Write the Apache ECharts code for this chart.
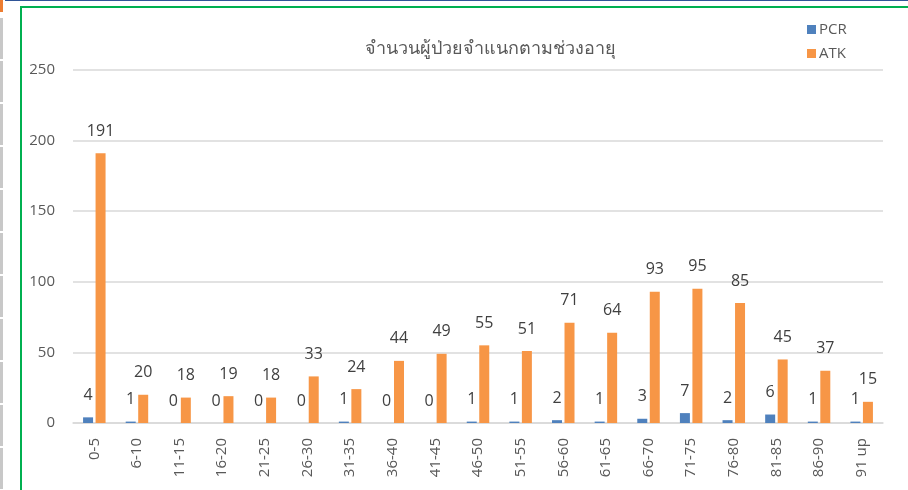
<!DOCTYPE html>
<html>
<head>
<meta charset="utf-8">
<script src="https://cdn.jsdelivr.net/npm/echarts@6/dist/echarts.min.js"></script>
<style>
  html, body { margin: 0; padding: 0; background: #fff; }
  #wrap { position: relative; width: 908px; height: 490px; overflow: hidden; }
  #chart { position: absolute; left: 0; top: 0; width: 908px; height: 490px; }
  .frame { position: absolute; left: 20px; top: 6px; width: 900px; height: 500px; border: 2px solid #00b050; box-sizing: border-box; pointer-events: none; }
  .topline { position: absolute; left: 5px; top: 0; width: 903px; height: 1px; background: #2f5597; }
  .orangemark { position: absolute; left: 0; top: 0; width: 3px; height: 12px; background: #ed7d31; }
  .side { position: absolute; left: 0; top: 18px; width: 3px; height: 472px;
          background: repeating-linear-gradient(to bottom, #c8c8c8 0, #c8c8c8 41px, #fff 41px, #fff 43px); }
</style>
</head>
<body>
<div id="wrap">
  <div id="chart"></div>
  <div class="frame"></div>
  <div class="topline"></div>
  <div class="orangemark"></div>
  <div class="side"></div>
</div>
<script>
// ช่วงอายุ
const ageGroups = ['0-5', '6-10', '11-15', '16-20', '21-25', '26-30', '31-35', '36-40', '41-45',
  '46-50', '51-55', '56-60', '61-65', '66-70', '71-75', '76-80', '81-85', '86-90', '91 up'];
const pcrValues = [4, 1, 0, 0, 0, 0, 1, 0, 0, 1, 1, 2, 1, 3, 7, 2, 6, 1, 1];
const atkValues = [191, 20, 18, 19, 18, 33, 24, 44, 49, 55, 51, 71, 64, 93, 95, 85, 45, 37, 15];

const font = '"Open Sans", "Noto Sans", sans-serif';

let chart = echarts.init(document.getElementById('chart'));
chart.setOption({
  animation: false,
  textStyle: { fontFamily: font },
  title: {
    text: 'จำนวนผู้ป่วยจำแนกตามช่วงอายุ',
    left: 485, top: 35, textAlign: 'center',
    textStyle: { fontSize: 18, fontWeight: 'normal', color: '#595959', fontFamily: font }
  },
  legend: {
    orient: 'vertical',
    left: 802, top: 17,
    icon: 'rect',
    itemWidth: 9, itemHeight: 9, itemGap: 9,
    textStyle: { fontSize: 15, color: '#595959', fontFamily: font, padding: [0, 0, 0, -2] },
    data: ['PCR', 'ATK']
  },
  grid: { left: 73, right: 25, top: 70, bottom: 67 },
  xAxis: {
    type: 'category',
    data: ageGroups,
    axisTick: { show: false },
    axisLine: { lineStyle: { color: '#d9d9d9', width: 1.5 } },
    axisLabel: { rotate: 90, fontSize: 15, color: '#595959', margin: 15, fontFamily: font }
  },
  yAxis: {
    type: 'value',
    min: 0, max: 250, interval: 50,
    axisLabel: { fontSize: 15, color: '#595959', margin: 18, fontFamily: font },
    splitLine: { lineStyle: { color: '#d9d9d9', width: 1.5 } }
  },
  series: [
    {
      name: 'PCR',
      type: 'bar',
      data: pcrValues,
      barWidth: 10,
      barGap: '25%',
      itemStyle: { color: '#4f81bd' },
      label: { show: true, position: 'top', distance: 14, fontSize: 16, color: '#404040', fontFamily: font }
    },
    {
      name: 'ATK',
      type: 'bar',
      data: atkValues,
      barWidth: 10,
      itemStyle: { color: '#f79646' },
      label: { show: true, position: 'top', distance: 14, fontSize: 16, color: '#404040', fontFamily: font }
    }
  ]
});
</script>
</body>
</html>
